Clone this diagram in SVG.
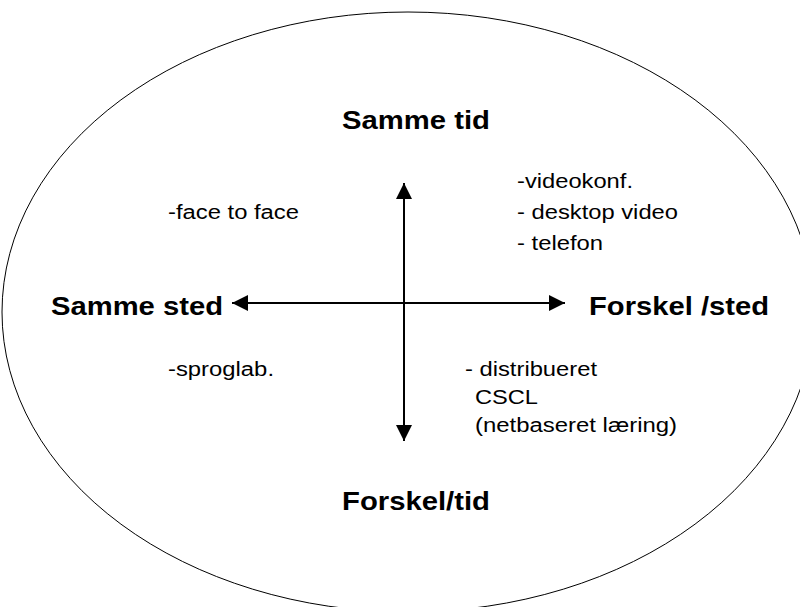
<svg xmlns="http://www.w3.org/2000/svg" width="800" height="607" viewBox="0 0 800 607">
<style>
.b{font-family:"Liberation Sans",Arial,sans-serif;font-weight:bold;font-size:26px;fill:#000}
.r{font-family:"Liberation Sans",Arial,sans-serif;font-size:20px;fill:#000}
.ax{stroke:#000;stroke-width:2;fill:none}
</style>
<defs>
<marker id="ah" viewBox="0 0 16 16" refX="16" refY="8" markerWidth="16" markerHeight="16" markerUnits="userSpaceOnUse" orient="auto-start-reverse">
<path d="M0,0 L16,8 L0,16 Z" fill="#000"/>
</marker>
</defs>
<rect width="800" height="607" fill="#fff"/>
<g id="frame"><ellipse cx="408" cy="312" rx="406" ry="300" fill="none" stroke="#000" stroke-width="1"/></g>
<g id="connectors">
<line class="ax" x1="404" y1="183" x2="404" y2="441" marker-start="url(#ah)" marker-end="url(#ah)"/>
<line class="ax" x1="232" y1="303" x2="565" y2="303" marker-start="url(#ah)" marker-end="url(#ah)"/>
</g>
<g id="samme-tid"><text class="b" x="342" y="129" textLength="148" lengthAdjust="spacingAndGlyphs">Samme tid</text></g>
<g id="forskel-tid"><text class="b" x="342" y="510" textLength="148" lengthAdjust="spacingAndGlyphs">Forskel/tid</text></g>
<g id="samme-sted"><text class="b" x="51" y="315" textLength="172" lengthAdjust="spacingAndGlyphs">Samme sted</text></g>
<g id="forskel-sted"><text class="b" x="589" y="315" textLength="180" lengthAdjust="spacingAndGlyphs">Forskel /sted</text></g>
<g id="q1"><text class="r" x="168" y="219" textLength="131" lengthAdjust="spacingAndGlyphs">-face to face</text></g>
<g id="q2"><text class="r" x="517" y="188" textLength="116" lengthAdjust="spacingAndGlyphs">-videokonf.</text><text class="r" x="517" y="219" textLength="161" lengthAdjust="spacingAndGlyphs">- desktop video</text><text class="r" x="517" y="250" textLength="86" lengthAdjust="spacingAndGlyphs">- telefon</text></g>
<g id="q3"><text class="r" x="168" y="376" textLength="106" lengthAdjust="spacingAndGlyphs">-sproglab.</text></g>
<g id="q4"><text class="r" x="465" y="376" textLength="132" lengthAdjust="spacingAndGlyphs">- distribueret</text><text class="r" x="475" y="404" textLength="63" lengthAdjust="spacingAndGlyphs">CSCL</text><text class="r" x="475" y="432" textLength="202" lengthAdjust="spacingAndGlyphs">(netbaseret læring)</text></g>
</svg>
